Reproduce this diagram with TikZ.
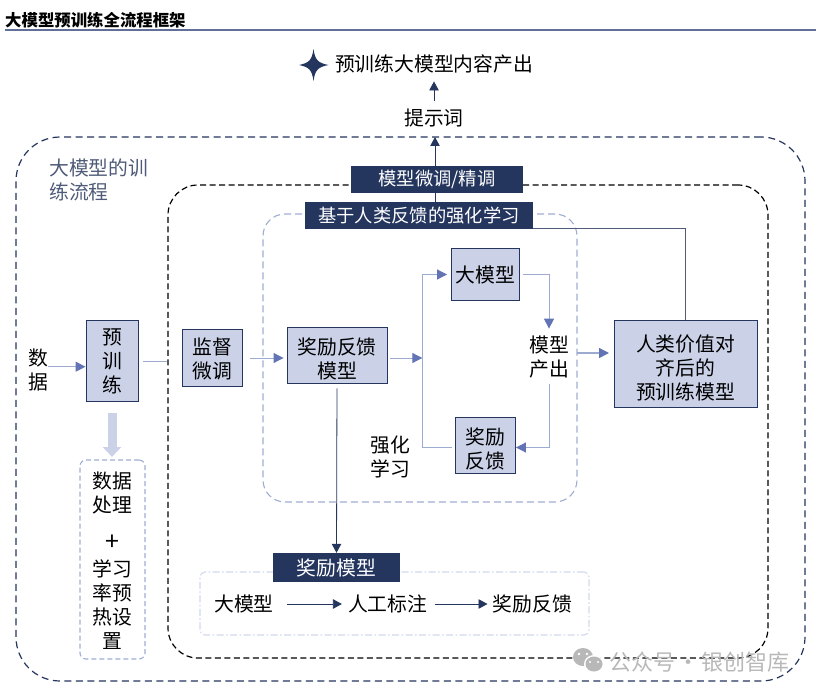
\documentclass[tikz,border=0pt]{standalone}
\usepackage{fontspec}
\setmainfont{Noto Sans CJK SC}
\usetikzlibrary{arrows.meta, positioning, calc}
\definecolor{navy}{HTML}{24355E}
\definecolor{boxfill}{HTML}{CBD2E8}
\definecolor{lineblue}{HTML}{9DABD2}
\definecolor{headblue}{HTML}{6274B4}
\definecolor{framelight}{HTML}{9FADD3}
\definecolor{framepale}{HTML}{D3D8EC}
\definecolor{labelgray}{HTML}{4F5B78}
\definecolor{markgray}{HTML}{B8B8B8}
\newcommand{\lowerline}{\rule{0pt}{22pt}}
\tikzset{
	cjk/.style = {font=\fontsize{19.8}{24}\selectfont, align=center, inner sep=0pt, text=black},
	modelbox/.style = {cjk, text depth=-2pt, draw=navy, fill=boxfill, line width=0.9pt},
	banner/.style = {font=\fontsize{18.3}{22}\selectfont, fill=navy, text=white, inner sep=0pt},
	lightarrow/.style = {draw=lineblue, line width=1pt, -{Triangle[length=10pt,width=10pt,color=headblue]}},
	lightline/.style = {draw=lineblue, line width=1pt},
	darkarrow/.style = {draw=navy, line width=0.8pt, -{Triangle[length=9pt,width=9.5pt,color=navy]}},
}
\begin{document}
\begin{tikzpicture}[x=1pt, y=-1pt]
	\useasboundingbox (0,0) rectangle (816,695);
	\node (title) [font=\fontsize{16.4}{20}\selectfont\bfseries, inner sep=0pt, anchor=west] at (5,20) {大模型预训练全流程框架};
	\coordinate (ruleleft) at (5,30);
	\coordinate (ruleright) at (816,30);
	\draw [draw=lineblue!50!navy, line width=1.5pt] (ruleleft) -- (ruleright);
	\node (outerframe) [draw=navy, line width=1.2pt, dash pattern=on 7pt off 4.5pt, rounded corners=44pt, minimum width=789pt, minimum height=544pt] at (410.5,409) {};
	\node (innerframe) [draw=black, line width=1.2pt, dash pattern=on 6pt off 3.5pt, rounded corners=30pt, minimum width=600pt, minimum height=473pt] at (468,421.5) {};
	\node (rlframe) [draw=framelight, line width=1.1pt, dash pattern=on 7pt off 4pt, rounded corners=22pt, minimum width=314pt, minimum height=288pt] at (420,358) {};
	\node (prepframe) [draw=framelight, line width=1.1pt, dash pattern=on 5pt off 3pt, rounded corners=6pt, minimum width=65pt, minimum height=199pt] at (112.5,559.5) {};
	\node (labelframe) [draw=framepale, line width=1.1pt, dash pattern=on 7pt off 2.5pt on 1.5pt off 2.5pt, rounded corners=5pt, minimum width=389pt, minimum height=63pt] at (394.5,603.5) {};

	\fill [navy] (313.5,49) .. controls (315,60) and (318,63) .. (328.5,65) .. controls (318,67) and (315,70) .. (313.5,81) .. controls (312,70) and (309,67) .. (299,65) .. controls (309,63) and (312,60) .. (313.5,49) -- cycle;
	\node (result) [cjk] at (434,64) {预训练大模型内容产出};
	\node (prompt) [cjk] at (434,118) {提示词};
	\node (flowlabel) [cjk, text=labelgray, align=left, anchor=north west] at (49,159) {大模型的训\\练流程};

	\coordinate (promptin) at (435,137);
	\node (rlbanner) [banner, minimum width=228pt, minimum height=26.5pt] at (419,215.3) {基于人类反馈的强化学习};
	\draw [darkarrow] (promptin |- rlbanner.north) -- (promptin);
	\node (tunebanner) [banner, minimum width=172pt, minimum height=26.5pt] at (437,179.3) {模型微调/精调};
	\draw [darkarrow, shorten <=8pt, shorten >=8pt] (prompt.north) -- (result.south);

	\node (pretrain) [modelbox, minimum width=52pt, minimum height=81pt] at (112.5,361) {预\\训\\练};
	\node (data) [cjk] at (38,369.5) {数\\据};
	\node (finetune) [modelbox, minimum width=60pt, minimum height=57pt] at (212,358) {监督\\微调};
	\node (rewardmodel) [modelbox, minimum width=100pt, minimum height=56pt] at (337,355) {\lowerline 奖励反馈\\模型};
	\node (bigmodel) [modelbox, minimum width=68pt, minimum height=52pt] at (485.5,274.5) {大模型};
	\node (rewardfb) [modelbox, minimum width=60pt, minimum height=56pt] at (485.5,445) {\lowerline 奖励\\反馈};
	\node (output) [cjk] at (549,357) {模型\\产出};
	\node (rllabel) [cjk] at (390,457) {强化\\学习};
	\node (aligned) [modelbox, minimum width=143pt, minimum height=87pt] at (685.5,364) {\lowerline 人类价值对\\齐后的\\预训练模型};
	\node (prep) [cjk] at (112,561) {数据\\处理\\[10pt]\raisebox{-4pt}{\fontsize{25}{24}\selectfont +}\\[6pt]学习\\率预\\热设\\置};

	\node (rewardbanner) [banner, font=\fontsize{19.8}{24}\selectfont, minimum width=127pt, minimum height=29pt] at (336.5,567.5) {奖励模型};
	\node (flowa) [cjk] at (244,604) {大模型};
	\node (flowb) [cjk, right=74pt of flowa] {人工标注};
	\node (flowc) [cjk, right=65pt of flowb] {奖励反馈};

	\coordinate (branch) at (422.3,358);
	\coordinate (outstart) at (577,353);
	\coordinate (outtip) at (609,353);
	\coordinate (feedback) at (533,228);

	\draw [lightarrow, shorten >=0.5pt] (data.east |- 0,366.7) -- (pretrain.west |- 0,366.7);
	\draw [lightline, shorten <=4pt] (pretrain.east) -- (innerframe.west |- pretrain.east);
	\draw [lightarrow, shorten <=8pt, shorten >=3pt] (finetune.east) -- (rewardmodel.west |- finetune.east);
	\draw [lightarrow, shorten <=3pt] (rewardmodel.east |- branch) -- (branch);
	\draw [lightarrow, shorten >=4pt] (branch) |- (bigmodel.west);
	\draw [lightline, shorten <=3pt] (rewardfb.west |- 0,447.5) -| (branch);
	\draw [lightarrow, shorten <=3pt, shorten >=7pt] (bigmodel.east) -| (output.north);
	\draw [lightarrow, shorten <=6pt] (output.south) |- (rewardfb.east |- 0,447.5);
	\draw [lightarrow, line width=1.4pt] (outstart) -- (outtip);
	\draw [draw=labelgray, line width=1pt] (aligned.north) |- (feedback);
	\draw [darkarrow, shorten <=5pt] (rewardmodel.south) -- (rewardbanner.north);
	\draw [darkarrow, shorten <=13pt, shorten >=6pt] (flowa.east) -- (flowb.west);
	\draw [darkarrow, shorten <=7pt, shorten >=5pt] (flowb.east) -- (flowc.west);

	\coordinate (thicktop) at (112,413);
	\coordinate (thicktip) at (112,457);
	\draw [draw=boxfill, line width=9pt, -{Triangle[length=10pt,width=18pt,color=boxfill]}] (thicktop) -- (thicktip);

	\fill [markgray] (583,657) ellipse [x radius=10pt, y radius=9pt];
	\fill [white] (594,664) ellipse [x radius=10pt, y radius=9pt];
	\fill [markgray] (594,664) ellipse [x radius=8.5pt, y radius=7.5pt];
	\fill [white] (579,654) circle [radius=1.4pt] (587,654) circle [radius=1.4pt] (590,662) circle [radius=1.1pt] (598,662) circle [radius=1.1pt];
	\node (wechat) [font=\fontsize{22}{24}\selectfont, text=markgray, inner sep=0pt, anchor=west] at (609,662) {公众号\kern2pt·\kern2pt银创智库};
\end{tikzpicture}
\end{document}
